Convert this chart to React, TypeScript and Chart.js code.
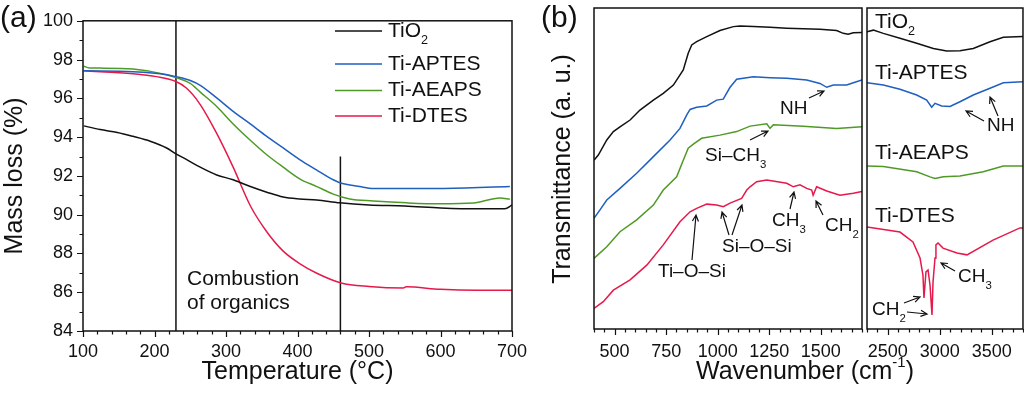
import React, { useEffect, useRef } from 'react';
import { Chart, registerables } from 'chart.js';

Chart.register(...registerables);

const FONT = '"Liberation Sans", Arial, Helvetica, sans-serif';
const INK = '#111111';
const COL_TIO2 = '#111111';
const COL_APTES = '#1f5fc0';
const COL_AEAPS = '#4f9a27';
const COL_DTES = '#e6194b';

// ---------- Panel (a): TGA ----------
const tgaTempTicks = [100, 200, 300, 400, 500, 600, 700];
const tgaMassTicks = [84, 86, 88, 90, 92, 94, 96, 98, 100];

const tio2Temp = [101, 124, 148, 170, 194, 217, 230, 245, 264, 287, 310, 334, 357, 380, 403, 427, 459, 500, 550, 600, 650, 690, 700];
const tio2Mass = [94.58, 94.39, 94.24, 94.04, 93.79, 93.44, 93.14, 92.84, 92.45, 92.05, 91.8, 91.45, 91.16, 90.91, 90.81, 90.76, 90.61, 90.5, 90.45, 90.35, 90.3, 90.3, 90.5];

const aptesTemp = [101, 170, 217, 230, 250, 264, 287, 310, 334, 357, 380, 403, 427, 450, 459, 487, 506, 599, 697];
const aptesMass = [97.42, 97.37, 97.22, 97.12, 96.92, 96.67, 96.02, 95.33, 94.68, 94.04, 93.44, 92.84, 92.3, 91.8, 91.65, 91.45, 91.35, 91.35, 91.45];

const aeapsTemp = [101, 109, 124, 170, 217, 230, 250, 264, 287, 310, 334, 357, 380, 403, 427, 450, 473, 506, 553, 599, 646, 683, 697];
const aeapsMass = [97.66, 97.57, 97.56, 97.51, 97.22, 97.07, 96.77, 96.32, 95.58, 94.68, 93.84, 93.09, 92.45, 91.85, 91.45, 91.06, 90.81, 90.71, 90.61, 90.56, 90.6, 90.86, 90.8];

const dtesTemp = [101, 170, 203, 230, 245, 264, 287, 310, 334, 357, 380, 403, 427, 461, 500, 548, 552, 600, 650, 700];
const dtesMass = [97.42, 97.27, 97.12, 96.87, 96.52, 95.68, 94.19, 92.45, 90.46, 89.12, 88.12, 87.48, 86.98, 86.48, 86.3, 86.22, 86.28, 86.15, 86.1, 86.1];

const markerTemps = [230, 460];
const markerTops = [100, 93];
const markerBottom = 84;

// ---------- Panel (b): FTIR, low wavenumber ----------
const lowWnTicks = [500, 750, 1000, 1250, 1500];
const lowTio2Wn = [400, 421, 462, 494, 526, 575, 623, 688, 736, 785, 833, 857, 874, 898, 947, 1011, 1076, 1108, 1173, 1254, 1335, 1415, 1496, 1577, 1609, 1633, 1658, 1700];
const lowTio2T = [52.6, 54.2, 58.9, 61.5, 63.0, 65.1, 68.2, 71.3, 73.4, 76.0, 80.7, 85.9, 88.5, 89.5, 91.1, 93.0, 94.2, 94.4, 94.2, 94.0, 93.7, 93.5, 93.4, 93.0, 92.1, 91.8, 92.3, 92.4];

const lowAptesWn = [400, 429, 462, 526, 607, 688, 769, 817, 850, 866, 898, 947, 995, 1027, 1060, 1092, 1173, 1254, 1335, 1432, 1496, 1529, 1561, 1626, 1658, 1700];
const lowAptesT = [34.5, 37.1, 40.2, 43.8, 48.5, 53.7, 58.9, 62.5, 66.7, 68.4, 69.1, 69.5, 71.3, 71.6, 75.3, 77.8, 78.6, 78.3, 78.1, 77.6, 76.5, 75.3, 76.0, 76.0, 76.7, 77.6];

const lowAeapsWn = [400, 462, 526, 607, 688, 736, 801, 833, 857, 882, 922, 1011, 1092, 1157, 1238, 1254, 1270, 1415, 1577, 1700];
const lowAeapsT = [22.0, 25.6, 30.3, 34.0, 38.6, 43.3, 47.4, 52.6, 56.3, 57.6, 59.4, 60.4, 61.5, 63.2, 63.9, 62.5, 63.6, 63.2, 62.5, 63.0];

const lowDtesWn = [400, 445, 494, 575, 656, 736, 817, 866, 898, 947, 995, 1027, 1060, 1116, 1141, 1157, 1189, 1238, 1335, 1367, 1399, 1432, 1456, 1463, 1480, 1529, 1593, 1658, 1700];
const lowDtesT = [6.4, 8.5, 12.1, 15.3, 19.9, 26.2, 33.4, 36.5, 37.6, 38.9, 38.6, 38.1, 39.2, 40.7, 43.3, 44.3, 45.9, 46.4, 45.4, 44.3, 44.9, 43.8, 43.3, 41.7, 44.3, 43.0, 41.7, 42.3, 42.8];

// ---------- Panel (b): FTIR, high wavenumber ----------
const highWnTicks = [2500, 3000, 3500];
const highTio2Wn = [2300, 2361, 2457, 2617, 2778, 2938, 3066, 3194, 3322, 3483, 3611, 3800];
const highTio2T = [92.6, 93.1, 92.1, 90.6, 89.0, 87.4, 86.6, 86.7, 87.4, 89.5, 90.9, 91.1];

const highAptesWn = [2300, 2457, 2617, 2778, 2874, 2922, 2954, 3018, 3098, 3194, 3322, 3483, 3611, 3800];
const highAptesT = [76.7, 76.0, 74.7, 72.9, 71.3, 69.1, 70.3, 69.5, 69.3, 70.8, 72.9, 75.0, 76.7, 77.0];

const highAeapsWn = [2300, 2457, 2778, 2906, 2954, 3034, 3194, 3418, 3611, 3800];
const highAeapsT = [50.8, 50.6, 49.0, 47.4, 46.9, 47.4, 47.7, 49.0, 50.8, 50.8];

const highDtesWn = [2300, 2617, 2742, 2810, 2838, 2848, 2867, 2887, 2906, 2925, 2935, 2954, 2963, 2983, 3031, 3165, 3262, 3512, 3771, 3800];
const highDtesT = [31.8, 30.2, 27.1, 22.1, 16.8, 9.7, 17.8, 18.4, 13.7, 4.4, 14.6, 22.1, 26.2, 26.8, 25.2, 23.7, 23.1, 27.7, 31.5, 31.5];

// ---------- helpers ----------
const pts = (xs: number[], ys: number[]) => xs.map((x, i) => ({ x, y: ys[i] }));
const range = (a: number, b: number, s: number) => {
  const out: number[] = [];
  for (let v = a; v <= b + 1e-9; v += s) out.push(Math.round(v * 1000) / 1000);
  return out;
};

type Seg = { t: string; s?: 'sub' | 'sup' };

function richWidth(ctx: CanvasRenderingContext2D, segs: Seg[], size: number) {
  let w = 0;
  for (const g of segs) {
    ctx.font = `${g.s ? size * 0.6 : size}px ${FONT}`;
    w += ctx.measureText(g.t).width;
  }
  return w;
}

function drawRich(ctx: CanvasRenderingContext2D, segs: Seg[], x: number, y: number, size: number, align: 'left' | 'center' = 'left') {
  const w = richWidth(ctx, segs, size);
  let cx = align === 'center' ? x - w / 2 : x;
  ctx.textBaseline = 'middle';
  ctx.textAlign = 'left';
  ctx.fillStyle = INK;
  for (const g of segs) {
    const fs = g.s ? size * 0.6 : size;
    ctx.font = `${fs}px ${FONT}`;
    const dy = g.s === 'sub' ? size * 0.45 : g.s === 'sup' ? -size * 0.36 : 0;
    ctx.fillText(g.t, cx, y + dy);
    cx += ctx.measureText(g.t).width;
  }
}

function drawArrow(ctx: CanvasRenderingContext2D, x1: number, y1: number, x2: number, y2: number) {
  const a = Math.atan2(y2 - y1, x2 - x1);
  const L = 7;
  const sp = 0.45;
  ctx.beginPath();
  ctx.moveTo(x1, y1);
  ctx.lineTo(x2, y2);
  ctx.moveTo(x2 - L * Math.cos(a - sp), y2 - L * Math.sin(a - sp));
  ctx.lineTo(x2, y2);
  ctx.lineTo(x2 - L * Math.cos(a + sp), y2 - L * Math.sin(a + sp));
  ctx.stroke();
}

function drawFrameTicks(chart: any, xAll: number[], xMajor: number[], yAll: number[], yMajor: number[]) {
  const { ctx, chartArea: a, scales } = chart;
  ctx.save();
  ctx.strokeStyle = INK;
  ctx.lineWidth = 1.2;
  ctx.beginPath();
  for (const v of xAll) {
    const px = Math.round(scales.x.getPixelForValue(v)) + 0.5;
    const len = xMajor.includes(v) ? 6 : 3.5;
    ctx.moveTo(px, a.bottom);
    ctx.lineTo(px, a.bottom + len);
  }
  for (const v of yAll) {
    const py = Math.round(scales.y.getPixelForValue(v)) + 0.5;
    const len = yMajor.includes(v) ? 6 : 3.5;
    ctx.moveTo(a.left, py);
    ctx.lineTo(a.left - len, py);
  }
  ctx.stroke();
  ctx.lineWidth = 1.5;
  ctx.strokeRect(a.left, a.top, a.right - a.left, a.bottom - a.top);
  ctx.restore();
}

const lineDs = (data: { x: number; y: number }[], color: string, smooth: boolean) => ({
  data,
  borderColor: color,
  backgroundColor: color,
  borderWidth: 1.5,
  pointRadius: 0,
  fill: false,
  tension: 0,
  cubicInterpolationMode: smooth ? ('monotone' as const) : ('default' as const),
});

const tickFont = { family: FONT, size: 18 };
const plainLabel = (v: any) => String(v);

// ---------- component ----------
export default function App() {
  const refA = useRef<HTMLCanvasElement>(null);
  const refB = useRef<HTMLCanvasElement>(null);
  const refC = useRef<HTMLCanvasElement>(null);

  useEffect(() => {
    Chart.defaults.font.family = FONT;
    Chart.defaults.color = INK;

    const baseOpts = {
      responsive: false,
      animation: false as const,
      events: [] as any[],
      plugins: { legend: { display: false }, tooltip: { enabled: false } },
    };

    // ----- Panel A -----
    const plugA = {
      id: 'plugA',
      afterDraw(chart: any) {
        drawFrameTicks(chart, range(100, 700, 20), tgaTempTicks, range(84, 100, 1), tgaMassTicks);
        const ctx = chart.ctx as CanvasRenderingContext2D;
        ctx.save();
        ctx.fillStyle = INK;
        ctx.font = `30px ${FONT}`;
        ctx.textBaseline = 'alphabetic';
        ctx.textAlign = 'left';
        ctx.fillText('(a)', 0, 27);
        const rows: { segs: Seg[]; color: string; y: number }[] = [
          { segs: [{ t: 'TiO' }, { t: '2', s: 'sub' }], color: COL_TIO2, y: 31 },
          { segs: [{ t: 'Ti-APTES' }], color: COL_APTES, y: 64 },
          { segs: [{ t: 'Ti-AEAPS' }], color: COL_AEAPS, y: 90.5 },
          { segs: [{ t: 'Ti-DTES' }], color: COL_DTES, y: 116 },
        ];
        for (const r of rows) {
          ctx.strokeStyle = r.color;
          ctx.lineWidth = 1.5;
          ctx.beginPath();
          ctx.moveTo(335, r.y);
          ctx.lineTo(382, r.y);
          ctx.stroke();
          drawRich(ctx, r.segs, 388, r.y, 21);
        }
        drawRich(ctx, [{ t: 'Combustion' }], 187, 279, 21);
        drawRich(ctx, [{ t: 'of organics' }], 187, 303, 21);
        ctx.restore();
      },
    };

    const chartA = new Chart(refA.current!, {
      type: 'line',
      data: {
        datasets: [
          lineDs(pts(tio2Temp, tio2Mass), COL_TIO2, true),
          lineDs(pts(aptesTemp, aptesMass), COL_APTES, true),
          lineDs(pts(aeapsTemp, aeapsMass), COL_AEAPS, true),
          lineDs(pts(dtesTemp, dtesMass), COL_DTES, true),
          lineDs(pts([markerTemps[0], markerTemps[0]], [markerBottom, markerTops[0]]), INK, false),
          lineDs(pts([markerTemps[1], markerTemps[1]], [markerBottom, markerTops[1]]), INK, false),
        ] as any,
      },
      options: {
        ...baseOpts,
        layout: { padding: { left: 0, right: 512, top: 8, bottom: 0 } },
        scales: {
          x: {
            type: 'linear',
            min: 100,
            max: 700,
            afterBuildTicks: (s: any) => { s.ticks = tgaTempTicks.map((v) => ({ value: v })); },
            afterFit: (s: any) => { s.height = 63; },
            grid: { display: false, drawTicks: false },
            border: { display: false },
            ticks: { font: tickFont, color: INK, padding: 10, maxRotation: 0, autoSkip: false, callback: plainLabel },
            title: { display: true, text: 'Temperature (°C)', color: INK, font: { family: FONT, size: 25 }, padding: { top: 0, bottom: 7 } },
          },
          y: {
            type: 'linear',
            min: 84,
            max: 100,
            afterBuildTicks: (s: any) => { s.ticks = tgaMassTicks.map((v) => ({ value: v })); },
            afterFit: (s: any) => { s.width = 83; },
            grid: { display: false, drawTicks: false },
            border: { display: false },
            ticks: { font: tickFont, color: INK, padding: 10, autoSkip: false, callback: plainLabel },
            title: { display: true, text: 'Mass loss (%)', color: INK, font: { family: FONT, size: 25 }, padding: { top: 0, bottom: 0 } },
          },
        },
      } as any,
      plugins: [plugA],
    });

    // ----- Panel B (low wavenumber) -----
    const plugB = {
      id: 'plugB',
      afterDraw(chart: any) {
        drawFrameTicks(chart, range(400, 1700, 50), lowWnTicks, [], []);
        const ctx = chart.ctx as CanvasRenderingContext2D;
        ctx.save();
        ctx.fillStyle = INK;
        ctx.strokeStyle = INK;
        ctx.lineWidth = 1.2;
        ctx.font = `30px ${FONT}`;
        ctx.textBaseline = 'alphabetic';
        ctx.textAlign = 'left';
        ctx.fillText('(b)', 541, 27);
        ctx.save();
        ctx.translate(563, 169);
        ctx.rotate(-Math.PI / 2);
        drawRich(ctx, [{ t: 'Transmittance (a. u.)' }], 0, 0, 25, 'center');
        ctx.restore();
        drawRich(ctx, [{ t: 'Wavenumber (cm' }, { t: '-1', s: 'sup' }, { t: ')' }], 805, 372, 25, 'center');
        drawRich(ctx, [{ t: 'NH' }], 780, 109, 19);
        drawArrow(ctx, 809, 98, 824, 91);
        drawRich(ctx, [{ t: 'Si–CH' }, { t: '3', s: 'sub' }], 705, 156, 19);
        drawArrow(ctx, 750, 140, 768, 131);
        drawRich(ctx, [{ t: 'Ti–O–Si' }], 658, 272, 19);
        drawArrow(ctx, 692, 260, 696, 215);
        drawRich(ctx, [{ t: 'Si–O–Si' }], 722, 247, 19);
        drawArrow(ctx, 729, 235, 722, 212);
        drawArrow(ctx, 732, 235, 742, 205);
        drawRich(ctx, [{ t: 'CH' }, { t: '3', s: 'sub' }], 772, 221, 19);
        drawArrow(ctx, 790, 209, 794, 192);
        drawRich(ctx, [{ t: 'CH' }, { t: '2', s: 'sub' }], 825, 226, 19);
        drawArrow(ctx, 823, 215, 816, 201);
        ctx.restore();
      },
    };

    const chartB = new Chart(refB.current!, {
      type: 'line',
      data: {
        datasets: [
          lineDs(pts(lowTio2Wn, lowTio2T), COL_TIO2, false),
          lineDs(pts(lowAptesWn, lowAptesT), COL_APTES, false),
          lineDs(pts(lowAeapsWn, lowAeapsT), COL_AEAPS, false),
          lineDs(pts(lowDtesWn, lowDtesT), COL_DTES, false),
        ] as any,
      },
      options: {
        ...baseOpts,
        layout: { padding: { left: 594, right: 162, top: 8, bottom: 0 } },
        scales: {
          x: {
            type: 'linear',
            min: 400,
            max: 1700,
            afterBuildTicks: (s: any) => { s.ticks = lowWnTicks.map((v) => ({ value: v })); },
            afterFit: (s: any) => { s.height = 65; },
            grid: { display: false, drawTicks: false },
            border: { display: false },
            ticks: { font: tickFont, color: INK, padding: 12, maxRotation: 0, autoSkip: false, callback: plainLabel },
          },
          y: { type: 'linear', min: 0, max: 100, display: false },
        },
      } as any,
      plugins: [plugB],
    });

    // ----- Panel C (high wavenumber) -----
    const plugC = {
      id: 'plugC',
      afterDraw(chart: any) {
        drawFrameTicks(chart, range(2300, 3800, 100), highWnTicks, [], []);
        const ctx = chart.ctx as CanvasRenderingContext2D;
        ctx.save();
        ctx.strokeStyle = INK;
        ctx.lineWidth = 1.2;
        drawRich(ctx, [{ t: 'TiO' }, { t: '2', s: 'sub' }], 875, 22, 21);
        drawRich(ctx, [{ t: 'Ti-APTES' }], 875, 73, 21);
        drawRich(ctx, [{ t: 'Ti-AEAPS' }], 875, 153, 21);
        drawRich(ctx, [{ t: 'Ti-DTES' }], 875, 216, 21);
        drawRich(ctx, [{ t: 'NH' }], 987, 126, 19);
        drawArrow(ctx, 984, 121, 966, 111);
        drawArrow(ctx, 998, 116, 990, 97);
        drawRich(ctx, [{ t: 'CH' }, { t: '3', s: 'sub' }], 958, 277, 19);
        drawArrow(ctx, 955, 271, 941, 263);
        drawRich(ctx, [{ t: 'CH' }, { t: '2', s: 'sub' }], 872, 310, 19);
        drawArrow(ctx, 904, 303, 920, 297);
        drawArrow(ctx, 907, 312, 927, 314);
        ctx.restore();
      },
    };

    const chartC = new Chart(refC.current!, {
      type: 'line',
      data: {
        datasets: [
          lineDs(pts(highTio2Wn, highTio2T), COL_TIO2, false),
          lineDs(pts(highAptesWn, highAptesT), COL_APTES, false),
          lineDs(pts(highAeapsWn, highAeapsT), COL_AEAPS, false),
          lineDs(pts(highDtesWn, highDtesT), COL_DTES, false),
        ] as any,
      },
      options: {
        ...baseOpts,
        layout: { padding: { left: 867, right: 1, top: 8, bottom: 0 } },
        scales: {
          x: {
            type: 'linear',
            min: 2300,
            max: 3800,
            afterBuildTicks: (s: any) => { s.ticks = highWnTicks.map((v) => ({ value: v })); },
            afterFit: (s: any) => { s.height = 65; },
            grid: { display: false, drawTicks: false },
            border: { display: false },
            ticks: { font: tickFont, color: INK, padding: 12, maxRotation: 0, autoSkip: false, callback: plainLabel },
          },
          y: { type: 'linear', min: 0, max: 100, display: false },
        },
      } as any,
      plugins: [plugC],
    });

    return () => {
      chartA.destroy();
      chartB.destroy();
      chartC.destroy();
    };
  }, []);

  const cs: React.CSSProperties = { position: 'absolute', left: 0, top: 0, width: 1024, height: 394 };
  return (
    <div style={{ position: 'fixed', left: 0, top: 0, width: 1024, height: 394, background: '#ffffff' }}>
      <canvas ref={refA} width={1024} height={394} style={cs} />
      <canvas ref={refB} width={1024} height={394} style={cs} />
      <canvas ref={refC} width={1024} height={394} style={cs} />
    </div>
  );
}
